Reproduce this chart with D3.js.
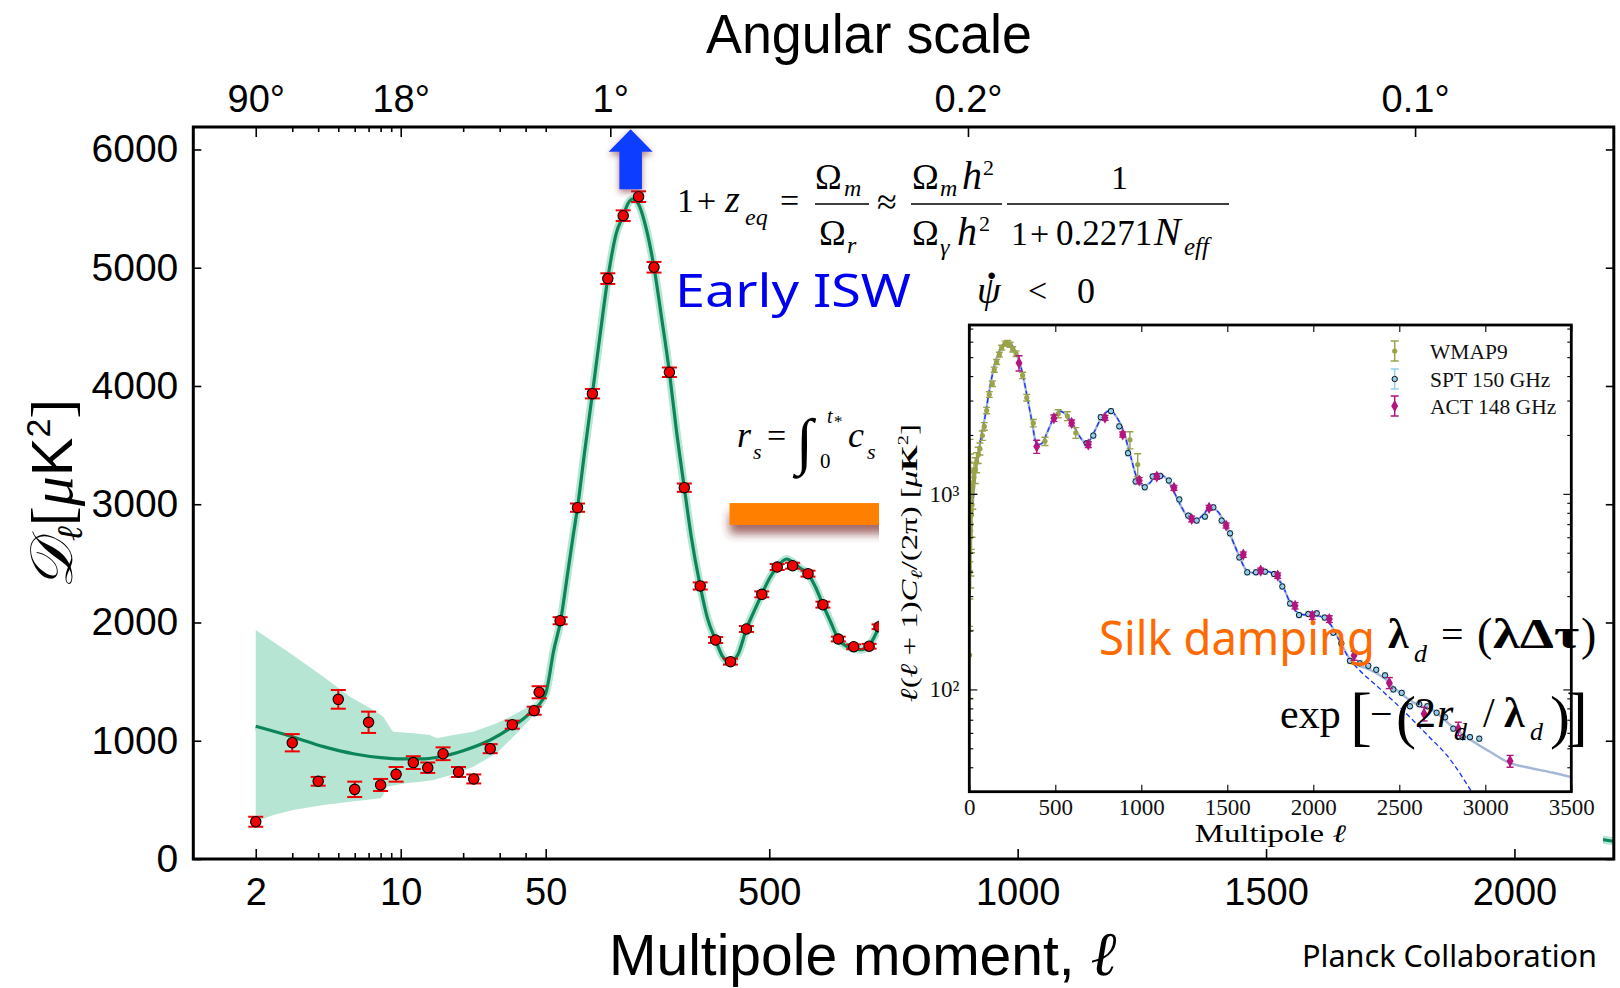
<!DOCTYPE html>
<html>
<head>
<meta charset="utf-8">
<script src="https://cdnjs.cloudflare.com/ajax/libs/d3/7.8.5/d3.min.js"></script>
<style>
  body { margin: 0; background: #fff; }
  svg { display: block; }
</style>
</head>
<body>
<svg id="chart" width="1620" height="988"></svg>
<script>
// ---------------- Planck TT spectrum (main panel) ----------------
// low-ell points (log part of the axis)
const lowEll = [2, 3, 4, 5, 6, 7, 8, 9.5, 11.5, 13.5, 16, 19, 22.5, 27, 34.5, 44, 46.5];
const lowD   = [315, 983, 657, 1350, 589, 1156, 626, 716, 815, 772, 890, 736, 677, 933, 1136, 1254, 1410];
const lowErr = [42, 73, 37, 79, 65, 90, 51, 62, 54, 44, 54, 42, 38, 38, 34, 34, 51];

// binned high-ell points (linear part of the axis)
const highEll = [79, 114, 144, 175, 206, 237, 268, 299, 329, 361, 392, 422, 454, 485, 516, 547, 578, 608, 639, 670, 701, 721];
const highD   = [2015, 2971, 3935, 4908, 5440, 5601, 5004, 4116, 3140, 2309, 1852, 1669, 1945, 2238, 2469, 2480, 2413, 2151, 1860, 1795, 1799, 1964];
const highErr = [30, 35, 40, 45, 45, 45, 45, 40, 35, 30, 25, 25, 25, 25, 25, 25, 25, 25, 20, 20, 20, 20];

// best-fit model curve
const theoryEll = [2, 3, 4.24, 6, 8, 10, 12.4, 15.5, 20, 27, 34.5, 41.8, 50, 56, 65, 80, 95, 105, 114, 128, 144, 159, 175, 192, 206, 216, 225, 236, 253, 268, 283, 299, 313, 329, 343, 361, 376, 392, 405, 420, 437, 454, 470, 485, 500, 516, 535, 547, 562, 578, 593, 608, 624, 639, 655, 670, 685, 701, 721, 760, 800, 818, 857, 895, 934, 973, 1012, 1060, 1109, 1186, 1235, 1283, 1341, 1399, 1448, 1506, 1564, 1613, 1690, 1767, 1826, 1864, 1923, 2000, 2078, 2126, 2165, 2200];
const theoryD   = [1122, 1034, 950, 888, 857, 846, 846, 865, 916, 1006, 1119, 1232, 1401, 1514, 1740, 2015, 2440, 2726, 2971, 3431, 3935, 4417, 4908, 5291, 5440, 5545, 5581, 5545, 5319, 5004, 4586, 4116, 3628, 3140, 2726, 2309, 2030, 1852, 1720, 1665, 1730, 1945, 2100, 2238, 2370, 2469, 2537, 2510, 2460, 2413, 2300, 2151, 2000, 1860, 1800, 1778, 1770, 1805, 1960, 2300, 2520, 2560, 2400, 2108, 1603, 1216, 1103, 1216, 1241, 1040, 853, 744, 774, 853, 806, 649, 493, 405, 405, 389, 333, 279, 243, 238, 233, 199, 171, 150];

// cosmic-variance band at low ell
const bandUpperEll = [2, 2.93, 4.24, 5.7, 7.38, 8.24, 9.05, 9.2, 11.5, 13.8, 14.9, 17.9, 22.4, 29, 36.3, 47, 50];
const bandUpperD   = [1937, 1739, 1542, 1373, 1260, 1203, 1091, 1077, 1063, 1049, 1021, 1049, 1077, 1148, 1232, 1345, 1470];
const bandLowerEll = [2, 2.43, 3.03, 4.24, 5.7, 8, 8.24, 8.6, 10.6, 12.4, 14.4, 18.6, 22.4, 29, 36.3, 43.2, 50];
const bandLowerD   = [315, 372, 414, 457, 485, 513, 541, 611, 640, 654, 668, 724, 781, 894, 1063, 1203, 1360];

// axis ticks
const yTicks = [0, 1000, 2000, 3000, 4000, 5000, 6000];
const logMajor = [2, 10, 50];
const logMinor = [3, 4, 5, 6, 7, 8, 9, 20, 30, 40];
const linMajor = [500, 1000, 1500, 2000];
const angleEll = [2, 10, 180, 900, 1800];
const angleText = ["90°", "18°", "1°", "0.2°", "0.1°"];

// ---------------- Inset: WMAP9 / SPT / ACT ----------------
const wmapEll = [2, 3, 4, 5, 6, 7, 8, 9, 11, 13, 16, 20, 27, 35, 43, 52, 62, 76, 87, 101, 116, 134, 145, 159, 175, 188, 208, 223, 237, 252, 272, 310, 334, 372, 440, 517, 570, 619, 934, 979];
const wmapD   = [150, 950, 640, 1300, 400, 1100, 650, 700, 820, 780, 880, 1094, 1216, 1330, 1452, 1580, 1700, 1986, 2213, 2667, 3222, 3656, 4315, 4723, 5149, 5596, 5868, 5907, 5792, 5483, 5210, 4033, 3104, 2299, 1858, 2570, 2497, 2051, 1888, 1413];
const wmapErr = [60, 500, 350, 600, 200, 500, 320, 320, 300, 280, 280, 260, 220, 200, 170, 150, 120, 110, 100, 100, 110, 120, 130, 140, 150, 160, 170, 170, 170, 170, 170, 150, 120, 100, 90, 120, 130, 130, 190, 190];

const sptEll = [682, 721, 764, 824, 872, 923, 967, 1020, 1066, 1110, 1160, 1221, 1273, 1322, 1370, 1419, 1467, 1516, 1570, 1616, 1667, 1719, 1772, 1820, 1865, 1917, 1971, 2020, 2066, 2116, 2163, 2213, 2270, 2320, 2366, 2417, 2465, 2514, 2562, 2616, 2663, 2717, 2766, 2814, 2868, 2911, 2965];
const sptD   = [1815, 1986, 2466, 2648, 2213, 1614, 1157, 1081, 1227, 1235, 1170, 936, 774, 730, 765, 853, 730, 628, 473, 397, 397, 400, 389, 336, 275, 240, 243, 245, 233, 195, 172, 140, 136, 132, 126, 118, 100, 96, 82, 84, 82, 76, 72, 63, 57, 57, 56];

const actEll = [289, 392, 492, 595, 692, 789, 892, 988, 1090, 1190, 1293, 1394, 1493, 1593, 1694, 1793, 1894, 1994, 2093, 2237, 2442, 2644, 2843, 3144];
const actD   = [4667, 1745, 2438, 2306, 1786, 2449, 2013, 1170, 1227, 1073, 744, 848, 689, 489, 405, 382, 268, 238, 229, 149, 108, 75, 63, 43];
const actErr = [420, 135, 90, 80, 60, 70, 60, 40, 40, 30, 25, 25, 20, 15, 12, 12, 10, 10, 9, 8, 7, 6, 5, 3];

// lensed model with foregrounds (solid) and primary CMB only (dashed)
const modelEll = [2, 10, 20, 33, 62, 91, 120, 149, 178, 200, 221, 245, 266, 305, 337, 363, 388, 411, 430, 450, 489, 527, 566, 605, 644, 682, 721, 770, 818, 857, 895, 934, 973, 1012, 1051, 1090, 1138, 1186, 1235, 1283, 1320, 1360, 1399, 1448, 1506, 1564, 1613, 1650, 1690, 1740, 1767, 1826, 1864, 1923, 2000, 2060, 2100, 2150, 2213, 2270, 2310, 2360, 2407, 2504, 2601, 2698, 2795, 2892, 3027, 3144, 3241, 3395, 3500];
const modelD   = [1000, 850, 900, 1216, 1803, 2466, 3513, 4630, 5420, 5850, 5970, 5800, 5420, 4276, 3125, 2371, 1837, 1790, 1850, 2029, 2420, 2648, 2516, 2238, 1950, 1803, 2029, 2466, 2667, 2466, 2108, 1603, 1216, 1103, 1140, 1266, 1216, 1040, 853, 744, 740, 780, 853, 806, 649, 493, 405, 395, 405, 400, 389, 333, 279, 243, 238, 235, 215, 180, 143, 132, 128, 122, 115, 96, 84, 78, 66, 57, 48, 42, 40, 37.5, 35.6];
const cmbEll = [2, 10, 20, 33, 62, 91, 120, 149, 178, 200, 221, 245, 266, 305, 337, 363, 388, 411, 430, 450, 489, 527, 566, 605, 644, 682, 721, 770, 818, 857, 895, 934, 973, 1012, 1051, 1090, 1138, 1186, 1235, 1283, 1320, 1360, 1399, 1448, 1506, 1564, 1613, 1650, 1690, 1740, 1767, 1826, 1864, 1923, 2000, 2060, 2100, 2150, 2200, 2270, 2360, 2510, 2667, 2786, 2920];
const cmbD   = [1000, 850, 900, 1216, 1803, 2466, 3513, 4630, 5420, 5850, 5970, 5800, 5420, 4276, 3125, 2371, 1837, 1790, 1850, 2029, 2420, 2648, 2516, 2238, 1950, 1803, 2029, 2466, 2667, 2466, 2108, 1603, 1216, 1103, 1140, 1266, 1216, 1040, 853, 744, 740, 780, 853, 806, 649, 493, 405, 395, 405, 400, 389, 333, 279, 243, 238, 235, 215, 178, 148, 125, 106, 80, 58, 45, 30];

const insetXTicks = [0, 500, 1000, 1500, 2000, 2500, 3000, 3500];
const insetYMajor = [100, 1000];
const insetYMinor = [40, 50, 60, 70, 80, 90, 200, 300, 400, 500, 600, 700, 800, 900, 2000, 3000, 4000, 5000, 6000, 7000];
const legendNames = ["WMAP9", "SPT 150 GHz", "ACT 148 GHz"];

// ---------------- styling ----------------
const SANS = "'Liberation Sans', Arial, sans-serif";
const SERIF = "'Liberation Serif', 'Times New Roman', serif";
const HAND = "'Comic Sans MS', 'Noto Sans', sans-serif";
const GREEN = "#0c8658";
const BAND = "#b6e5d4";
const RED = "#f00000";
const OLIVE = "#9aa24a";
const SKY = "#8fd0f0";
const MAGENTA = "#b3147d";

const svg = d3.select("#chart");
const defs = svg.append("defs");

function shadowFilter(id, dy, blur, opacity) {
  const f = defs.append("filter").attr("id", id)
    .attr("x", "-40%").attr("y", "-40%").attr("width", "180%").attr("height", "220%");
  f.append("feGaussianBlur").attr("in", "SourceAlpha").attr("stdDeviation", blur).attr("result", "b");
  f.append("feOffset").attr("in", "b").attr("dy", dy).attr("result", "o");
  f.append("feFlood").attr("flood-color", "#7c2c2c").attr("flood-opacity", opacity);
  f.append("feComposite").attr("in2", "o").attr("operator", "in").attr("result", "s");
  const m = f.append("feMerge");
  m.append("feMergeNode").attr("in", "s");
  m.append("feMergeNode").attr("in", "SourceGraphic");
}
shadowFilter("barShadow", 9, 5, 0.7);
shadowFilter("arrowShadow", 3, 3, 0.6);

// ---------------- scales: log for ell<=50, linear above ----------------
const X_LEFT = 193.3, X_50 = 545.7, X_RIGHT = 1613.8, Y_TOP = 127, Y_BOTTOM = 859;
const xLog = d3.scaleLog().domain([1, 50]).range([X_LEFT, X_50]);
const xLin = d3.scaleLinear().domain([50, 2200]).range([X_50, X_RIGHT]);
const x = l => (l <= 50 ? xLog(l) : xLin(l));
const y = d3.scaleLinear().domain([0, 6190]).range([Y_BOTTOM, Y_TOP]);

const main = svg.append("g");

// cosmic variance band
const bandPts = bandUpperEll.map((l, i) => [x(l), y(bandUpperD[i])])
  .concat(bandLowerEll.map((l, i) => [x(l), y(bandLowerD[i])]).reverse());
main.append("path")
  .attr("d", d3.line().curve(d3.curveLinearClosed)(bandPts))
  .attr("fill", BAND);

// model curve with soft halo
const theory = theoryEll.map((l, i) => [x(l), y(theoryD[i])]);
const tLine = d3.line().curve(d3.curveMonotoneX);
main.append("path").attr("d", tLine(theory)).attr("fill", "none")
  .attr("stroke", BAND).attr("stroke-width", 8).attr("stroke-linejoin", "round");
main.append("path").attr("d", tLine(theory)).attr("fill", "none")
  .attr("stroke", GREEN).attr("stroke-width", 3.2).attr("stroke-linejoin", "round");

// data points with error bars
const points = lowEll.map((l, i) => ({ l, d: lowD[i], e: lowErr[i] }))
  .concat(highEll.map((l, i) => ({ l, d: highD[i], e: highErr[i] })));
const pg = main.append("g");
const eb = pg.selectAll("g.eb").data(points).join("g").attr("class", "eb")
  .attr("stroke", RED).attr("stroke-width", 2);
eb.append("line").attr("x1", d => x(d.l)).attr("x2", d => x(d.l))
  .attr("y1", d => y(d.d - d.e)).attr("y2", d => y(d.d + d.e));
eb.append("line").attr("x1", d => x(d.l) - 7.5).attr("x2", d => x(d.l) + 7.5)
  .attr("y1", d => y(d.d - d.e)).attr("y2", d => y(d.d - d.e));
eb.append("line").attr("x1", d => x(d.l) - 7.5).attr("x2", d => x(d.l) + 7.5)
  .attr("y1", d => y(d.d + d.e)).attr("y2", d => y(d.d + d.e));
pg.selectAll("circle").data(points).join("circle")
  .attr("cx", d => x(d.l)).attr("cy", d => y(d.d)).attr("r", 5.2)
  .attr("fill", RED).attr("stroke", "#000").attr("stroke-width", 1.1);

// arrow marking the first acoustic peak (early ISW boost)
const peakEll = 221;
const ax = x(peakEll);
const arrowBase = y(5663), arrowNeck = y(5981), arrowTip = y(6170);
main.append("path")
  .attr("d", `M${ax - 11.3},${arrowBase} L${ax - 11.3},${arrowNeck} L${ax - 22},${arrowNeck} L${ax},${arrowTip} L${ax + 22},${arrowNeck} L${ax + 11.3},${arrowNeck} L${ax + 11.3},${arrowBase} Z`)
  .attr("fill", "#0a3cff").attr("filter", "url(#arrowShadow)");

// bar marking the sound horizon scale
main.append("rect")
  .attr("x", x(420)).attr("y", y(3010))
  .attr("width", x(1000) - x(420)).attr("height", y(2825) - y(3010))
  .attr("fill", "#ff8000").attr("filter", "url(#barShadow)");

// white panel holding the inset
main.append("rect").attr("x", 879).attr("y", 308).attr("width", 724).attr("height", 541).attr("fill", "#fff");

// ---------------- axes of the main panel ----------------
function styleAxis(g, size) {
  g.select(".domain").remove();
  g.selectAll("line").attr("stroke", "#000").attr("stroke-width", 1.6);
  g.selectAll("text").attr("font-family", SANS).attr("font-size", size).attr("fill", "#000");
}
const axes = svg.append("g");
axes.append("g").attr("transform", `translate(0,${Y_BOTTOM})`)
  .call(d3.axisBottom(xLog).tickValues(logMajor).tickFormat(d3.format("d")).tickSizeInner(-10).tickSizeOuter(0).tickPadding(19))
  .call(g => styleAxis(g, 38));
axes.append("g").attr("transform", `translate(0,${Y_BOTTOM})`)
  .call(d3.axisBottom(xLog).tickValues(logMinor).tickFormat("").tickSizeInner(-6).tickSizeOuter(0))
  .call(g => styleAxis(g, 38));
axes.append("g").attr("transform", `translate(0,${Y_BOTTOM})`)
  .call(d3.axisBottom(xLin).tickValues(linMajor).tickFormat(d3.format("d")).tickSizeInner(-10).tickSizeOuter(0).tickPadding(19))
  .call(g => styleAxis(g, 38));

const angleLabel = l => angleText[angleEll.indexOf(l)];
axes.append("g").attr("transform", `translate(0,${Y_TOP})`)
  .call(d3.axisTop(xLog).tickValues(angleEll.filter(l => l <= 50)).tickFormat(angleLabel).tickSizeInner(-10).tickSizeOuter(0).tickPadding(15))
  .call(g => styleAxis(g, 38));
axes.append("g").attr("transform", `translate(0,${Y_TOP})`)
  .call(d3.axisTop(xLog).tickValues(logMinor.concat([50])).tickFormat("").tickSizeInner(-5).tickSizeOuter(0))
  .call(g => styleAxis(g, 38));
axes.append("g").attr("transform", `translate(0,${Y_TOP})`)
  .call(d3.axisTop(xLin).tickValues(angleEll.filter(l => l > 50)).tickFormat(angleLabel).tickSizeInner(-10).tickSizeOuter(0).tickPadding(15))
  .call(g => styleAxis(g, 38));

axes.append("g").attr("transform", `translate(${X_LEFT},0)`)
  .call(d3.axisLeft(y).tickValues(yTicks).tickFormat(d3.format("d")).tickSizeInner(-8).tickSizeOuter(0).tickPadding(15))
  .call(g => styleAxis(g, 39));
axes.append("g").attr("transform", `translate(${X_RIGHT},0)`)
  .call(d3.axisRight(y).tickValues(yTicks).tickFormat("").tickSizeInner(-8).tickSizeOuter(0))
  .call(g => styleAxis(g, 39));

axes.append("rect").attr("x", X_LEFT).attr("y", Y_TOP)
  .attr("width", X_RIGHT - X_LEFT).attr("height", Y_BOTTOM - Y_TOP)
  .attr("fill", "none").attr("stroke", "#000").attr("stroke-width", 3);

// axis titles
svg.append("text").attr("x", 706).attr("y", 53).attr("font-family", SANS).attr("font-size", 56)
  .attr("textLength", 326).attr("lengthAdjust", "spacingAndGlyphs").text("Angular scale");
const xt = svg.append("text").attr("x", 609).attr("y", 975).attr("font-family", SANS).attr("font-size", 57);
xt.append("tspan").text("Multipole moment, ");
xt.append("tspan").attr("font-family", SERIF).attr("font-style", "italic").attr("font-size", 62).text("ℓ");

const yt = svg.append("text").attr("transform", "translate(72,494) rotate(-90)")
  .attr("text-anchor", "middle").attr("font-size", 60).attr("font-family", SERIF);
yt.append("tspan").attr("font-family", "'DejaVu Serif', 'DejaVu Sans', serif").attr("font-style", "italic").text("𝒟");
yt.append("tspan").attr("font-style", "italic").attr("font-size", 36).attr("dy", 10).text("ℓ");
yt.append("tspan").attr("dy", -10).text("[");
yt.append("tspan").attr("font-style", "italic").text("μ");
yt.append("tspan").attr("font-family", SANS).attr("font-size", 58).text("K");
yt.append("tspan").attr("font-family", SANS).attr("font-size", 34).attr("dy", -22).text("2");
yt.append("tspan").attr("dy", 22).text("]");

// ---------------- inset ----------------
const IX0 = 969.3, IX1 = 1571.3, IY0 = 325, IY1 = 791.7;
const ix = d3.scaleLinear().domain([0, 3500]).range([IX0, IX1]);
const iy = d3.scaleLog().domain([30, 7300]).range([IY1, IY0]);
const inset = svg.append("g");
defs.append("clipPath").attr("id", "insetClip").append("rect")
  .attr("x", IX0).attr("y", IY0).attr("width", IX1 - IX0).attr("height", IY1 - IY0);
const plot = inset.append("g").attr("clip-path", "url(#insetClip)");

const iLine = d3.line().curve(d3.curveMonotoneX);
plot.append("path").attr("d", iLine(modelEll.map((l, i) => [ix(l), iy(modelD[i])])))
  .attr("fill", "none").attr("stroke", "#a4b7d8").attr("stroke-width", 2.4);
plot.append("path").attr("d", iLine(cmbEll.map((l, i) => [ix(l), iy(cmbD[i])])))
  .attr("fill", "none").attr("stroke", "#1530ff").attr("stroke-width", 1.3).attr("stroke-dasharray", "5,3");

function errorBars(g, ells, vals, errs, color, cap, width) {
  const sel = g.append("g").attr("stroke", color).attr("stroke-width", width)
    .selectAll("g").data(ells.map((l, i) => ({ l, d: vals[i], e: errs[i] }))).join("g");
  sel.append("line").attr("x1", d => ix(d.l)).attr("x2", d => ix(d.l))
    .attr("y1", d => iy(Math.max(d.d - d.e, 1))).attr("y2", d => iy(d.d + d.e));
  sel.append("line").attr("x1", d => ix(d.l) - cap).attr("x2", d => ix(d.l) + cap)
    .attr("y1", d => iy(Math.max(d.d - d.e, 1))).attr("y2", d => iy(Math.max(d.d - d.e, 1)));
  sel.append("line").attr("x1", d => ix(d.l) - cap).attr("x2", d => ix(d.l) + cap)
    .attr("y1", d => iy(d.d + d.e)).attr("y2", d => iy(d.d + d.e));
}
errorBars(plot, wmapEll, wmapD, wmapErr, OLIVE, 3.5, 1.4);
plot.append("g").selectAll("circle").data(wmapEll).join("circle")
  .attr("cx", d => ix(d)).attr("cy", (d, i) => iy(wmapD[i])).attr("r", 2.6).attr("fill", OLIVE);

errorBars(plot, sptEll, sptD, sptD.map(v => v * 0.03), SKY, 3, 1.2);
plot.append("g").selectAll("circle").data(sptEll).join("circle")
  .attr("cx", d => ix(d)).attr("cy", (d, i) => iy(sptD[i])).attr("r", 2.7)
  .attr("fill", SKY).attr("stroke", "#111").attr("stroke-width", 1);

errorBars(plot, actEll, actD, actErr, MAGENTA, 3.5, 1.4);
const diamond = d3.symbol().type(d3.symbolDiamond).size(42);
plot.append("g").selectAll("path").data(actEll).join("path")
  .attr("transform", (d, i) => `translate(${ix(d)},${iy(actD[i])})`)
  .attr("d", diamond).attr("fill", MAGENTA);

// inset axes
function styleInset(g) {
  g.select(".domain").remove();
  g.selectAll("line").attr("stroke", "#000").attr("stroke-width", 1.1);
  g.selectAll("text").attr("font-family", SERIF).attr("font-size", 23).attr("fill", "#111");
}
inset.append("g").attr("transform", `translate(0,${IY1})`)
  .call(d3.axisBottom(ix).tickValues(insetXTicks).tickFormat(d3.format("d")).tickSizeInner(-7).tickSizeOuter(0).tickPadding(7))
  .call(styleInset);
inset.append("g").attr("transform", `translate(0,${IY0})`)
  .call(d3.axisTop(ix).tickValues(insetXTicks).tickFormat("").tickSizeInner(-7).tickSizeOuter(0))
  .call(styleInset);
const powLabel = d => (d === 100 ? "10²" : "10³");
inset.append("g").attr("transform", `translate(${IX0},0)`)
  .call(d3.axisLeft(iy).tickValues(insetYMajor).tickFormat(powLabel).tickSizeInner(-8).tickSizeOuter(0).tickPadding(10))
  .call(styleInset);
inset.append("g").attr("transform", `translate(${IX0},0)`)
  .call(d3.axisLeft(iy).tickValues(insetYMinor).tickFormat("").tickSizeInner(-4).tickSizeOuter(0))
  .call(styleInset);
inset.append("g").attr("transform", `translate(${IX1},0)`)
  .call(d3.axisRight(iy).tickValues(insetYMajor).tickFormat("").tickSizeInner(-8).tickSizeOuter(0))
  .call(styleInset);
inset.append("g").attr("transform", `translate(${IX1},0)`)
  .call(d3.axisRight(iy).tickValues(insetYMinor).tickFormat("").tickSizeInner(-4).tickSizeOuter(0))
  .call(styleInset);
inset.append("rect").attr("x", IX0).attr("y", IY0).attr("width", IX1 - IX0).attr("height", IY1 - IY0)
  .attr("fill", "none").attr("stroke", "#000").attr("stroke-width", 2.8);

const ixl = inset.append("text").attr("x", (IX0 + IX1) / 2).attr("y", 842).attr("text-anchor", "middle")
  .attr("font-family", SERIF).attr("font-size", 25).attr("textLength", 151).attr("lengthAdjust", "spacingAndGlyphs");
ixl.append("tspan").text("Multipole ");
ixl.append("tspan").attr("font-style", "italic").text("ℓ");

const iyl = inset.append("text").attr("transform", "translate(917,563) rotate(-90)").attr("text-anchor", "middle")
  .attr("font-family", SERIF).attr("font-size", 24).attr("textLength", 278).attr("lengthAdjust", "spacingAndGlyphs");
iyl.append("tspan").attr("font-style", "italic").text("ℓ");
iyl.append("tspan").text("(");
iyl.append("tspan").attr("font-style", "italic").text("ℓ");
iyl.append("tspan").text(" + 1)");
iyl.append("tspan").attr("font-style", "italic").text("C");
iyl.append("tspan").attr("font-style", "italic").attr("font-size", 16).attr("dy", 5).text("ℓ");
iyl.append("tspan").attr("dy", -5).text("/(2π) [");
iyl.append("tspan").attr("font-style", "italic").text("μ");
iyl.append("tspan").attr("font-weight", "bold").text("K");
iyl.append("tspan").attr("font-size", 15).attr("dy", -9).text("2");
iyl.append("tspan").attr("dy", 9).text("]");

// legend
const legendY = [351, 379, 406];
const legendColor = [OLIVE, SKY, MAGENTA];
const lg = inset.append("g");
legendNames.forEach((name, i) => {
  const cx = 1394.7, cy = legendY[i];
  lg.append("line").attr("x1", cx).attr("x2", cx).attr("y1", cy - 10).attr("y2", cy + 10)
    .attr("stroke", legendColor[i]).attr("stroke-width", 1.5);
  [cy - 10, cy + 10].forEach(v => lg.append("line").attr("x1", cx - 4).attr("x2", cx + 4).attr("y1", v).attr("y2", v)
    .attr("stroke", legendColor[i]).attr("stroke-width", 1.5));
  if (i === 0) lg.append("circle").attr("cx", cx).attr("cy", cy).attr("r", 2.6).attr("fill", OLIVE);
  if (i === 1) lg.append("circle").attr("cx", cx).attr("cy", cy).attr("r", 2.7).attr("fill", SKY).attr("stroke", "#111");
  if (i === 2) lg.append("path").attr("transform", `translate(${cx},${cy})`).attr("d", diamond).attr("fill", MAGENTA);
  lg.append("text").attr("x", 1430).attr("y", cy + 7.5).attr("font-family", SERIF).attr("font-size", 21.5)
    .attr("fill", "#111").text(name);
});

// ---------------- annotations ----------------
const notes = svg.append("g");
function put(xx, yy, txt, o = {}) {
  return notes.append("text").attr("x", xx).attr("y", yy)
    .attr("font-family", o.family || SERIF).attr("font-size", o.size || 36)
    .attr("font-style", o.italic ? "italic" : "normal").attr("font-weight", o.bold ? "bold" : "normal")
    .attr("fill", o.fill || "#000").attr("text-anchor", o.anchor || "start").text(txt);
}
function bar(x1, x2, yy) {
  notes.append("line").attr("x1", x1).attr("x2", x2).attr("y1", yy).attr("y2", yy)
    .attr("stroke", "#000").attr("stroke-width", 1.5);
}
// 1 + z_eq = Ω_m/Ω_r ≈ Ω_m h² / Ω_γ h² · 1/(1+0.2271 N_eff)
const NUM = 189, DEN = 245, ROW = 212, BAR = 204;
put(677, ROW, "1", { size: 34 });
put(697, ROW, "+", { size: 34 });
put(725, ROW, "z", { italic: true, size: 38 });
put(745, ROW + 13, "eq", { italic: true, size: 24 });
put(780, ROW, "=", { size: 34 });
put(815, NUM, "Ω"); put(844, NUM + 7, "m", { italic: true, size: 24 });
bar(815, 869, BAR);
put(819, DEN, "Ω"); put(847, DEN + 8, "r", { italic: true, size: 24 });
put(877, ROW + 2, "≈", { size: 36 });
put(912, NUM, "Ω"); put(940, NUM + 7, "m", { italic: true, size: 24 });
put(962, NUM, "h", { italic: true, size: 40 }); put(983, NUM - 14, "2", { size: 22 });
bar(911, 1002, BAR);
put(912, DEN, "Ω"); put(940, DEN + 10, "γ", { italic: true, size: 24 });
put(957, DEN, "h", { italic: true, size: 40 }); put(979, DEN - 14, "2", { size: 22 });
bar(1007, 1229, BAR);
put(1111, NUM, "1", { size: 34 });
put(1011, DEN, "1", { size: 34 });
put(1030, DEN, "+", { size: 34 });
put(1056, DEN, "0.2271", { size: 35 });
put(1154, DEN, "N", { italic: true, size: 40 });
put(1184, DEN + 10, "eff", { italic: true, size: 25 });

put(675, 307, "Early ISW", { family: HAND, size: 46, fill: "#0000f0" })
  .attr("textLength", 236).attr("lengthAdjust", "spacingAndGlyphs");
put(977, 303, "ψ", { italic: true, size: 38 });
put(985, 289, "·", { size: 40, bold: true });
put(1028, 302, "<", { size: 34 });
put(1077, 303, "0", { size: 36 });

// r_s = ∫_0^{t*} c_s
put(737, 447, "r", { italic: true, size: 36 });
put(753, 459, "s", { italic: true, size: 22 });
put(767, 447, "=", { size: 34 });
put(796, 462, "∫", { size: 62 });
put(827, 423, "t", { italic: true, size: 20 }); put(834, 427, "*", { size: 17 });
put(820, 468, "0", { size: 21 });
put(848, 447, "c", { italic: true, size: 36 });
put(867, 459, "s", { italic: true, size: 22 });

put(1099, 655, "Silk damping", { family: HAND, size: 47, fill: "#ff6a00" })
  .attr("textLength", 276).attr("lengthAdjust", "spacingAndGlyphs");
put(1388, 648, "λ", { size: 42, bold: true });
put(1414, 662, "d", { italic: true, size: 26 });
put(1441, 648, "=", { size: 40 });
put(1477, 650, "(", { size: 46 });
put(1493, 648, "λΔτ", { size: 42, bold: true }).attr("textLength", 86).attr("lengthAdjust", "spacingAndGlyphs");
put(1581, 650, ")", { size: 46 });

put(1280, 728, "exp", { size: 42 });
put(1350, 738, "[", { size: 66 });
put(1370, 727, "−", { size: 40 });
put(1396, 737, "(", { size: 60 });
put(1415, 727, "2", { size: 42 });
put(1437, 727, "r", { italic: true, size: 42 });
put(1454, 740, "d", { italic: true, size: 26 });
put(1483, 727, "/", { size: 42 });
put(1504, 727, "λ", { size: 42, bold: true });
put(1530, 740, "d", { italic: true, size: 26 });
put(1550, 737, ")", { size: 60 });
put(1566, 738, "]", { size: 66 });

put(1302, 967, "Planck Collaboration", { family: HAND, size: 30 })
  .attr("textLength", 295).attr("lengthAdjust", "spacingAndGlyphs");
</script>
</body>
</html>
